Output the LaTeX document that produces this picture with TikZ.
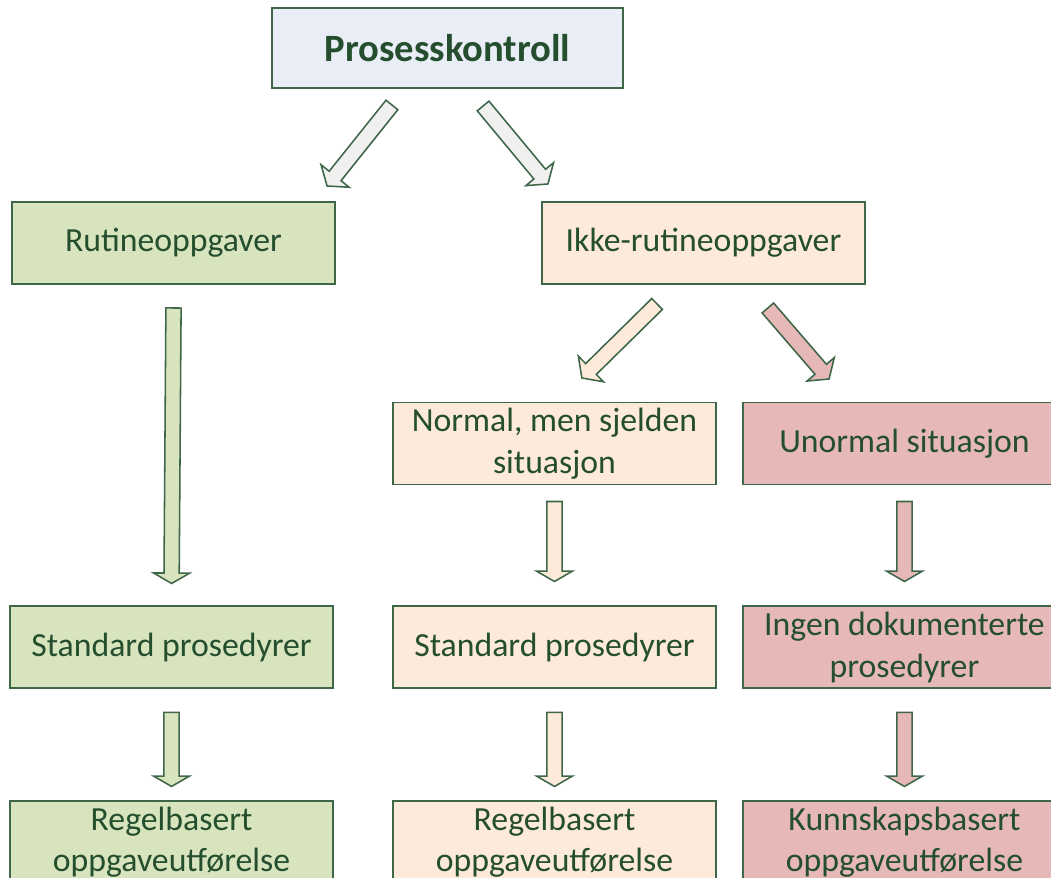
\documentclass[tikz,border=0pt]{standalone}
\usepackage{fontspec}
\setmainfont{Carlito}
\usetikzlibrary{%
	calc,%
	positioning,%
}
\definecolor{cdarkgreen}{RGB}{36, 78, 46}
\definecolor{cborder}{RGB}{62, 102, 72}
\definecolor{cbluelight}{RGB}{233, 237, 245}
\definecolor{cgreenlight}{RGB}{215, 228, 189}
\definecolor{cpeachlight}{RGB}{253, 234, 218}
\definecolor{croselight}{RGB}{230, 185, 184}
\definecolor{cgreylight}{RGB}{240, 240, 240}
\tikzset{
	nodes={align=center},%
	boxnode/.style={%
			draw=cborder,%
			rectangle,%
			line width=1.4pt,%
			minimum width=8.075cm,%
			minimum height=2.05cm,%
			inner sep=0pt,%
			text=cdarkgreen,%
			font=\fontsize{24}{29.5}\selectfont},%
	topnode/.style={%
			boxnode,%
			fill=cbluelight,%
			minimum width=8.775cm,%
			minimum height=2cm,%
			font=\fontsize{27.5}{33}\selectfont\bfseries},%
	rutinenode/.style={boxnode, fill=cgreenlight},%
	ikkenode/.style={boxnode, fill=cpeachlight},%
	unormalnode/.style={boxnode, fill=croselight},%
	arrowshape/.style={%
			draw=cborder,%
			line width=1.1pt,%
			line join=miter},%
}
% block arrow: fill, tail, tip, head length
\newcommand{\blockarrow}[4]{%
	\coordinate (neck) at ($#3!#4!#2$);
	\draw[arrowshape, fill=#1] ($#2!0.19cm!90:#3$) -- ($(neck)!0.19cm!90:#3$)
		-- ($(neck)!0.45cm!90:#3$) -- #3 -- ($(neck)!0.45cm!-90:#3$)
		-- ($(neck)!0.19cm!-90:#3$) -- ($#2!0.19cm!-90:#3$) -- cycle;
}

\begin{document}
\begin{tikzpicture}
	\useasboundingbox (0,0) rectangle (26.275,-21.95);
	\clip (0,0) rectangle (26.275,-21.95);

	\node[topnode] (ctrl) at (11.1875,-1.2) {Prosesskontroll};
	\node[rutinenode] (rutine) at (4.3375,-6.075) {Rutineoppgaver};
	\node[ikkenode] (ikke) [right=5.125cm of rutine] {Ikke-rutineoppgaver};
	\node[ikkenode] (normal) at (13.8625,-11.0875) {Normal, men sjelden\\situasjon};
	\node[unormalnode] (unormal) [right=0.625cm of normal] {Unormal situasjon};
	\node[ikkenode] (std2) [below=3cm of normal] {Standard prosedyrer};
	\node[rutinenode] (std1) [left=1.45cm of std2] {Standard prosedyrer};
	\node[unormalnode] (nodoc) [below=3cm of unormal] {Ingen dokumenterte\\prosedyrer};
	\node[rutinenode] (regel1) [below=2.775cm of std1] {Regelbasert\\oppgaveutførelse};
	\node[ikkenode] (regel2) [below=2.775cm of std2] {Regelbasert\\oppgaveutførelse};
	\node[unormalnode] (kunn) [below=2.775cm of nodoc] {Kunnskapsbasert\\oppgaveutførelse};

	\coordinate (ctrlL) at ($(ctrl.south)+(-1.39,-0.4)$);
	\coordinate (rutineT) at ($(ctrl.south)+(-3.01,-2.425)$);
	\coordinate (ctrlR) at ($(ctrl.south)+(0.89,-0.425)$);
	\coordinate (ikkeT) at ($(ctrl.south)+(2.51,-2.375)$);
	\coordinate (ikkeL) at ($(ikke.south)+(-1.16,-0.475)$);
	\coordinate (normalT) at ($(ikke.south)+(-3.04,-2.325)$);
	\coordinate (ikkeR) at ($(ikke.south)+(1.61,-0.575)$);
	\coordinate (unormalT) at ($(ikke.south)+(3.14,-2.35)$);

	\blockarrow{cgreylight}{(ctrlL)}{(rutineT)}{0.32cm}
	\blockarrow{cgreylight}{(ctrlR)}{(ikkeT)}{0.32cm}
	\blockarrow{cpeachlight}{(ikkeL)}{(normalT)}{0.32cm}
	\blockarrow{croselight}{(ikkeR)}{(unormalT)}{0.32cm}

	\blockarrow{cgreenlight}{($(rutine.south)+(0,-0.575)$)}{($(std1.north)+(0,0.55)$)}{0.26cm}
	\blockarrow{cpeachlight}{($(normal.south)+(0,-0.4)$)}{($(std2.north)+(0,0.6)$)}{0.26cm}
	\blockarrow{croselight}{($(unormal.south)+(0,-0.4)$)}{($(nodoc.north)+(0,0.6)$)}{0.26cm}
	\blockarrow{cgreenlight}{($(std1.south)+(0,-0.575)$)}{($(regel1.north)+(0,0.35)$)}{0.26cm}
	\blockarrow{cpeachlight}{($(std2.south)+(0,-0.575)$)}{($(regel2.north)+(0,0.35)$)}{0.26cm}
	\blockarrow{croselight}{($(nodoc.south)+(0,-0.575)$)}{($(kunn.north)+(0,0.35)$)}{0.26cm}
\end{tikzpicture}
\end{document}
